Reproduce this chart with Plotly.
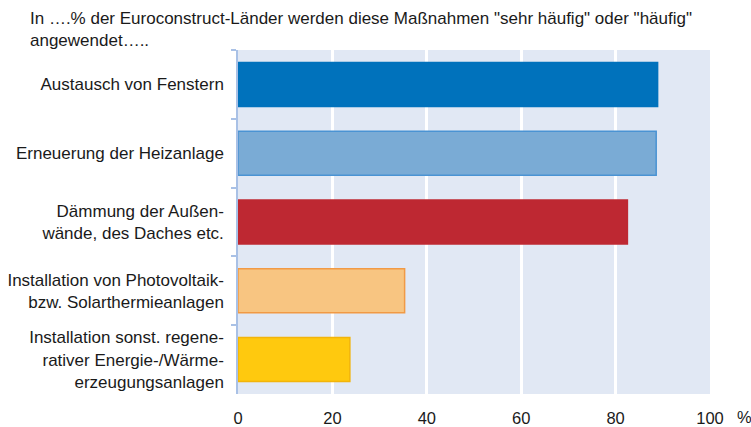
import plotly.graph_objects as go

categories = [
    "Austausch von Fenstern",
    "Erneuerung der Heizanlage",
    "Dämmung der Außen-<br>wände, des Daches etc.",
    "Installation von Photovoltaik-<br>bzw. Solarthermieanlagen",
    "Installation sonst. regene-<br>rativer Energie-/Wärme-<br>erzeugungsanlagen",
]
values = [88.9, 88.6, 82.5, 35.3, 23.7]
fill_colors = ["#0072bc", "#7aabd5", "#be2832", "#f8c581", "#ffc90e"]
line_colors = ["#0072bc", "#4a93d3", "#be2832", "#f19a45", "#f2b40a"]
tick_vals = [0, 20, 40, 60, 80, 100]
tick_text = ["0", "20", "40", "60", "80", "100"]
unit_text = "%"
title_lines = [
    'In ….% der Euroconstruct-Länder werden diese Maßnahmen "sehr häufig" oder "häufig"',
    "angewendet…..",
]

fig = go.Figure(go.Bar(
    y=categories, x=values, orientation="h",
    marker=dict(color=fill_colors, line=dict(color=line_colors, width=1.5)),
    width=0.64,
))

font = "Liberation Sans, Arial, sans-serif"
fig.update_layout(
    width=751, height=427,
    margin=dict(l=238, r=41, t=50, b=33),
    paper_bgcolor="white", plot_bgcolor="#e1e8f4",
    showlegend=False,
    font=dict(family=font, size=17, color="#1a1a1a"),
)
fig.update_xaxes(
    range=[0, 100], tickvals=tick_vals, ticktext=tick_text,
    showgrid=True, gridcolor="white", gridwidth=3,
    zeroline=False, showline=False, ticks="", ticklabelstandoff=12,
    tickfont=dict(size=16.5), automargin=False,
)
fig.update_yaxes(
    autorange="reversed", type="category",
    showline=True, linecolor="#a9c1e6", linewidth=1.5,
    ticks="outside", tickson="boundaries", ticklen=5, tickcolor="#a9c1e6",
    tickwidth=1.5, ticklabelstandoff=9, tickfont=dict(size=17),
    showgrid=False, automargin=False,
)
fig.add_annotation(text=unit_text, xref="x", yref="paper", x=100, xshift=25, y=0,
                   yshift=-12, showarrow=False, xanchor="left", yanchor="top",
                   font=dict(size=16.5, color="#1a1a1a"))
fig.add_annotation(text=title_lines[0], xref="paper", yref="paper",
                   x=-210 / 472, y=1, yshift=32, xanchor="left", yanchor="middle",
                   showarrow=False, font=dict(size=17))
fig.add_annotation(text=title_lines[1], xref="paper", yref="paper",
                   x=-210 / 472, y=1, yshift=10, xanchor="left", yanchor="middle",
                   showarrow=False, font=dict(size=17))

fig.write_html("out.html",
               config={"displayModeBar": False},
               post_script="document.body.style.margin='0';document.body.style.overflow='hidden';")
